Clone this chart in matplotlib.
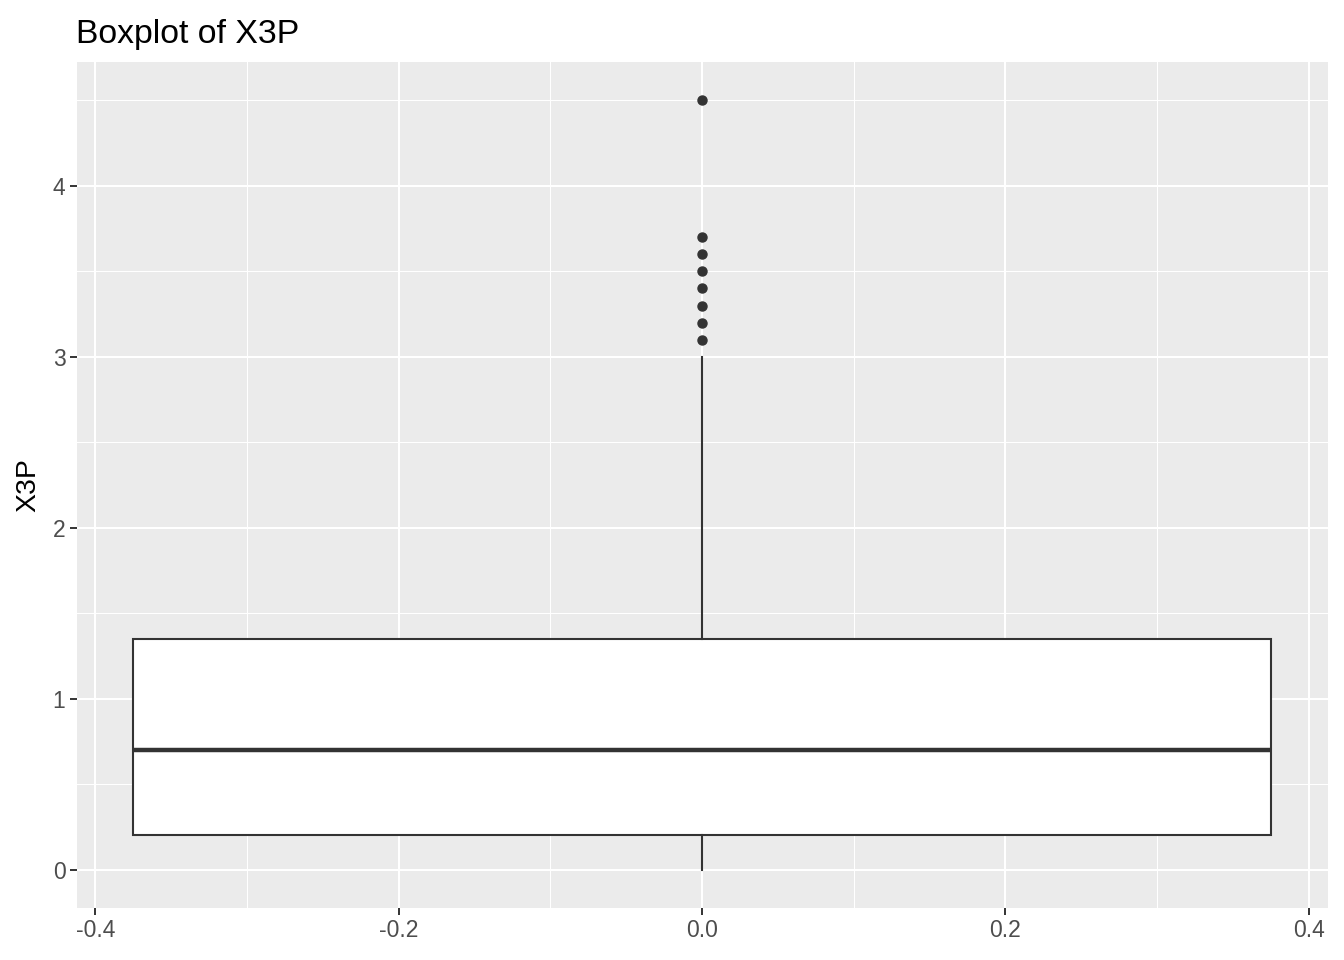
import numpy as np
import matplotlib.pyplot as plt

plt.rcParams['font.family'] = ['Liberation Sans', 'DejaVu Sans']

# summary of X3P
q1 = 0.2
median = 0.7
q3 = 1.35
whisker_low = 0.0
whisker_high = 3.0
outliers = [3.1, 3.2, 3.3, 3.4, 3.5, 3.6, 3.7, 4.5]

x_ticks = [-0.4, -0.2, 0.0, 0.2, 0.4]
y_ticks = [0, 1, 2, 3, 4]

fig = plt.figure(figsize=(13.44, 9.6), dpi=100)
ax = fig.add_axes([76.5/1344, 52/960, 1251/1344, 846/960])
ax.set_facecolor('#EBEBEB')

stats = [dict(med=median, q1=q1, q3=q3, whislo=whisker_low, whishi=whisker_high,
              fliers=outliers, label='')]
ax.bxp(stats, positions=[0.0], widths=0.75, patch_artist=True, showcaps=False,
       boxprops=dict(facecolor='white', edgecolor='#333333', linewidth=1.5),
       medianprops=dict(color='#333333', linewidth=3.2),
       whiskerprops=dict(color='#333333', linewidth=1.5),
       flierprops=dict(marker='o', markerfacecolor='#333333', markeredgecolor='#333333',
                       markersize=6.5, linestyle='none'),
       zorder=3)

ax.set_xlim(-0.4125, 0.4125)
ax.set_ylim(-0.225, 4.725)

ax.set_xticks(x_ticks)
ax.set_xticklabels(['-0.4', '-0.2', '0.0', '0.2', '0.4'])
ax.set_yticks(y_ticks)
ax.set_xticks([-0.3, -0.1, 0.1, 0.3], minor=True)
ax.set_yticks([0.5, 1.5, 2.5, 3.5, 4.5], minor=True)

ax.grid(which='major', color='white', linewidth=1.5)
ax.grid(which='minor', color='white', linewidth=0.75)
ax.set_axisbelow(True)

for s in ax.spines.values():
    s.set_visible(False)
ax.tick_params(which='major', length=5, width=1.4, color='#333333',
               labelcolor='#4D4D4D', labelsize=16.5, pad=3)
ax.tick_params(which='minor', length=0)

ax.set_ylabel('X3P', fontsize=20.5, labelpad=8)
ax.set_title('Boxplot of X3P', fontsize=24.3, loc='left', pad=14)

fig.savefig('out.png', dpi=100)
